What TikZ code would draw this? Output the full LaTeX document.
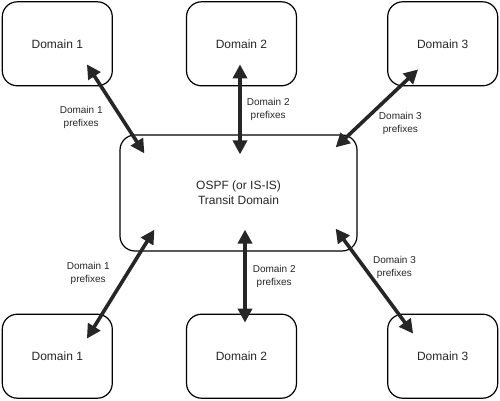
\documentclass[tikz,border=0pt]{standalone}
\usepackage{fontspec}
\setmainfont{Liberation Sans}
\usepackage{xcolor}
\usetikzlibrary{positioning,arrows.meta,calc}

\begin{document}
\begin{tikzpicture}[
    x=1pt, y=1pt,
    box/.style={draw, rounded corners=15pt, line width=1.2pt, minimum width=110pt,
                minimum height=84pt, align=center, font=\fontsize{12}{15}\selectfont,
                text=black!85},
    arr/.style={{Triangle[length=14pt,width=14pt]}-{Triangle[length=14pt,width=14pt]},
                line width=3.6pt, black!85},
    lbl/.style={align=center, inner sep=1pt, font=\fontsize{10}{13}\selectfont,
                text=black!85},
  ]
  \useasboundingbox (0,0) rectangle (500,400);
  % Transit domain in the middle
  \node[box, minimum width=237pt, minimum height=116pt] (transit) at (238.5,207)
        {OSPF (or IS-IS)\\Transit Domain};
  % Top row
  \node[box, above=48pt of transit, xshift=3pt] (dom2t) {Domain 2};
  \node[box, left=73pt of dom2t] (dom1t) {Domain 1};
  \node[box, right=90pt of dom2t] (dom3t) {Domain 3};
  % Bottom row
  \node[box, below=62pt of transit, xshift=3pt] (dom2b) {Domain 2};
  \node[box, left=73pt of dom2b] (dom1b) {Domain 1};
  \node[box, right=90pt of dom2b] (dom3b) {Domain 3};

  % Prefixes exchanged with the transit domain
  \draw[arr] ($(dom1t.south east)+(-26,22)$) --
        node[lbl, pos=0.6, left=16pt] {Domain 1\\prefixes}
        ($(transit.north west)+(25,-19)$);
  \draw[arr] ($(dom2t.south)+(-1.5,22)$) --
        node[lbl, midway, right=4pt] {Domain 2\\prefixes}
        ($(transit.north)+(1.5,-20)$);
  \draw[arr] ($(dom3t.south west)+(31,17)$) --
        node[lbl, pos=0.69, right=15pt] {Domain 3\\prefixes}
        ($(transit.north east)+(-22,-13)$);
  \draw[arr] ($(transit.south west)+(35,22)$) --
        node[lbl, pos=0.4, left=15pt] {Domain 1\\prefixes}
        ($(dom1b.north east)+(-26,-25)$);
  \draw[arr] ($(transit.south)+(6.5,22)$) --
        node[lbl, midway, right=5pt] {Domain 2\\prefixes}
        ($(dom2b.north)+(3.5,-9)$);
  \draw[arr] ($(transit.south east)+(-22,23)$) --
        node[lbl, pos=0.37, right=6pt] {Domain 3\\prefixes}
        ($(dom3b.north west)+(26,-20)$);
\end{tikzpicture}
\end{document}
